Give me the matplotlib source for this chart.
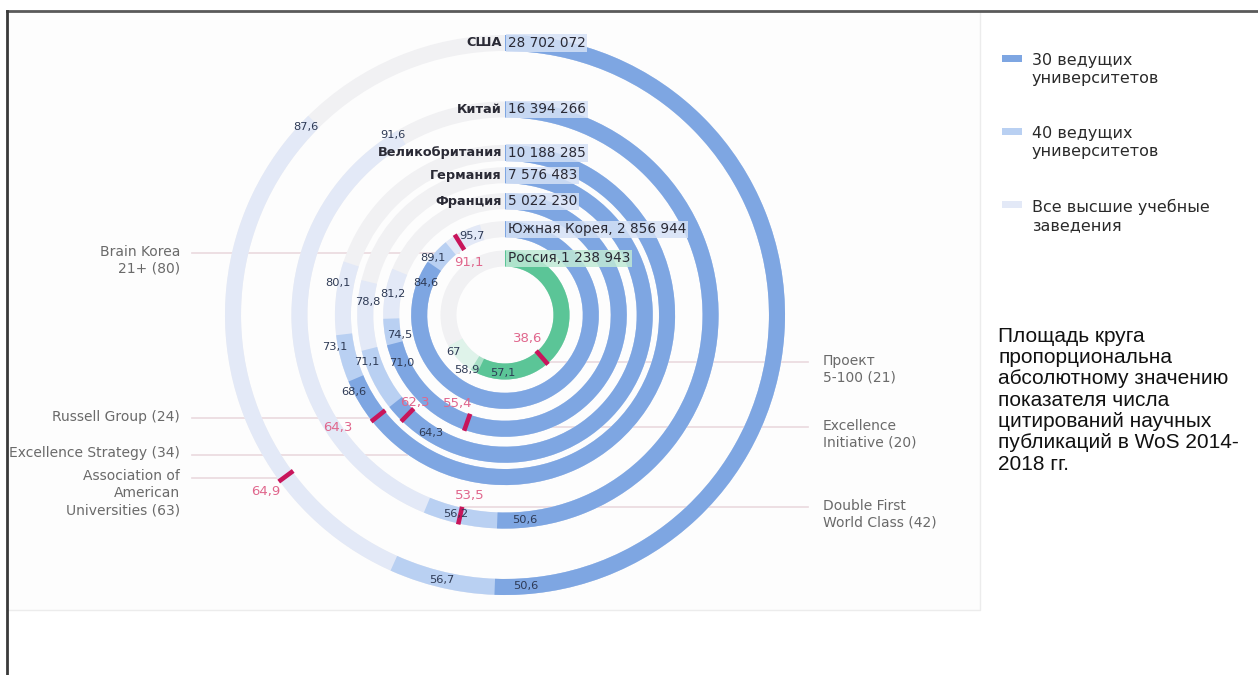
import numpy as np
import matplotlib
matplotlib.use('Agg')
import matplotlib.pyplot as plt
from matplotlib.patches import Rectangle

# ---------------- data ----------------
countries = ['США', 'Китай', 'Великобритания', 'Германия', 'Франция', 'Южная Корея', 'Россия']
citations = [28702072, 16394266, 10188285, 7576483, 5022230, 2856944, 1238943]
top30 = [50.6, 50.6, 68.6, 64.3, 71.0, 84.6, 57.1]
top40 = [56.7, 56.2, 73.1, 71.1, 74.5, 89.1, 58.9]
all_heis = [87.6, 91.6, 80.1, 78.8, 81.2, 95.7, 67]
programs = ['Association of\nAmerican\nUniversities (63)', 'Double First\nWorld Class (42)',
            'Russell Group (24)', 'Excellence Strategy (34)', 'Excellence\nInitiative (20)',
            'Brain Korea\n21+ (80)', 'Проект\n5-100 (21)']
program_values = [64.9, 53.5, 64.3, 62.3, 55.4, 91.1, 38.6]
legend_labels = ['30 ведущих\nуниверситетов', '40 ведущих\nуниверситетов', 'Все высшие учебные\nзаведения']
note = ('Площадь круга\nпропорциональна\nабсолютному значению\nпоказателя числа\n'
        'цитирований научных\nпубликаций в WoS 2014-\n2018 гг.')

# ---------------- style / layout ----------------
W, H = 1258, 675
CX, CY, R = 505, 315, 300
R_MAX_PX = 272
RW = 16
BLUE = ['#7EA6E2', '#B9D0F2', '#E3E9F7']
GREEN = ['#5BC597', '#A9E0C7', '#DFF3EA']
TRACK = '#F1F1F3'
RED = '#C8155B'
RED_TXT = '#E0678D'
LBL = '#2E3A55'
GREY = '#6A6A6A'
LINE = '#EAD9DE'
inline_sep = [None, None, None, None, None, ', ', ',']
box_col = ['#D5E1F6'] * 6 + ['#BFE9D6']
seg_off = [[(31, 0), (51, 0), (10, 2)],
           [(28, 0), (30, 0), (6, 6)],
           [(11, 7), (11, 11), (21, 8)],
           [(47, 0), (12, 6), (20, -2)],
           [(21, 0), (18, -7), (23, 0)],
           [(19, 0), (18, 6), (11, 0)],
           [(23, 2), (-2.5, 10), (7, 7)]]
red_off = [(0, 25), (6, -22), (-13, 40), (-3.5, -14), (-17, -14), (3, -22), (2.5, -24)]
prog_side = ['L', 'R', 'L', 'L', 'R', 'L', 'R']
prog_line_y = [478, 507, 418, 455, 427, 253, 362]

fig = plt.figure(figsize=(W / 100, H / 100), dpi=100)
fig.patch.set_facecolor('white')

ov = fig.add_axes([0, 0, 1, 1], label='under')
ov.set_xlim(0, W); ov.set_ylim(H, 0); ov.axis('off')

pax = fig.add_axes([(CX - R) / W, (H - CY - R) / H, 2 * R / W, 2 * R / H],
                   projection='polar', label='rings')
pax.set_theta_zero_location('N')
pax.set_theta_direction(-1)
pax.set_ylim(0, R)
pax.axis('off')

top = fig.add_axes([0, 0, 1, 1], label='over')
top.set_xlim(0, W); top.set_ylim(H, 0); top.axis('off')

# panel frame
ov.add_patch(Rectangle((7, 11), 973, 599, facecolor='#FDFDFD', edgecolor='#ECECEC', lw=1, zorder=0))
ov.plot([7, W], [11, 11], color='#5A5A5A', lw=2, zorder=1)
ov.plot([7, 7], [11, H], color='#3A3A3A', lw=2, zorder=1)

radii = R_MAX_PX * np.sqrt(np.array(citations, float) / citations[0])


def fmt(v):
    return str(v).replace('.', ',')


def to_px(theta, r):
    d = pax.transData.transform((theta, r))
    return ov.transData.inverted().transform(d)


for i, r in enumerate(radii):
    cols = GREEN if countries[i] == 'Россия' else BLUE
    pax.bar(0, RW, width=2 * np.pi, bottom=r - RW / 2, align='edge', color=TRACK,
            edgecolor='none', zorder=1)
    for j, (vals, z) in enumerate([(all_heis, 2), (top40, 3), (top30, 4)]):
        p = vals[i]
        pax.bar(0, RW, width=2 * np.pi * p / 100, bottom=r - RW / 2, align='edge',
                color=cols[2 - j], edgecolor='none', zorder=z)
    # segment labels
    for j, vals in enumerate([top30, top40, all_heis]):
        p = vals[i]
        da, dr = seg_off[i][j]
        th = 2 * np.pi * p / 100 - da / r
        pax.text(th, r + dr, fmt(p), ha='center', va='center', fontsize=8.2,
                 color=LBL, zorder=8)
    # program mark
    pv = program_values[i]
    th = 2 * np.pi * pv / 100
    pax.plot([th, th], [r - RW / 2 - 1, r + RW / 2 + 1], color=RED, lw=3.3,
             solid_capstyle='butt', zorder=7)
    da, dr = red_off[i]
    pax.text(th - da / r, r + dr, fmt(pv), ha='center', va='center', fontsize=9.5,
             color=RED_TXT, zorder=8)
    # program label and leader line
    mx, my = to_px(th, r)
    ly = prog_line_y[i]
    if prog_side[i] == 'L':
        ov.plot([192, mx], [ly, ly], color=LINE, lw=1.2, zorder=2)
        top.text(180, ly - 8.5, programs[i], ha='right', va='top', fontsize=10,
                 color=GREY, linespacing=1.25)
    else:
        ov.plot([mx, 808], [ly, ly], color=LINE, lw=1.2, zorder=2)
        top.text(823, ly - 8.5, programs[i], ha='left', va='top', fontsize=10,
                 color=GREY, linespacing=1.25)
    # country / citation label at 12 o'clock
    x0, y0 = to_px(0, r)
    num = f"{citations[i]:,}".replace(',', ' ')
    if inline_sep[i] is None:
        top.text(x0 - 3, y0, countries[i], ha='right', va='center', fontsize=9.3,
                 fontweight='bold', color='#2A2A35')
        s = num
    else:
        s = countries[i] + inline_sep[i] + num
    top.text(x0 + 3, y0, s, ha='left', va='center', fontsize=9.8, color='#2A2A35',
             bbox=dict(boxstyle='square,pad=0.12', fc=box_col[i], ec='none', alpha=0.85))

# legend
leg_y = [58, 131, 204]
for c, lab, y in zip(BLUE, legend_labels, leg_y):
    top.add_patch(Rectangle((1002, y - 3.5), 20, 7, facecolor=c, edgecolor='none'))
    top.text(1032, y - 5, lab, ha='left', va='top', fontsize=11.5, color='#2A2A2A',
             linespacing=1.25)

top.text(998, 327, note, ha='left', va='top', fontsize=15, color='#111111',
         family='Liberation Sans', linespacing=1.15)

fig.savefig('out.png', dpi=100)
